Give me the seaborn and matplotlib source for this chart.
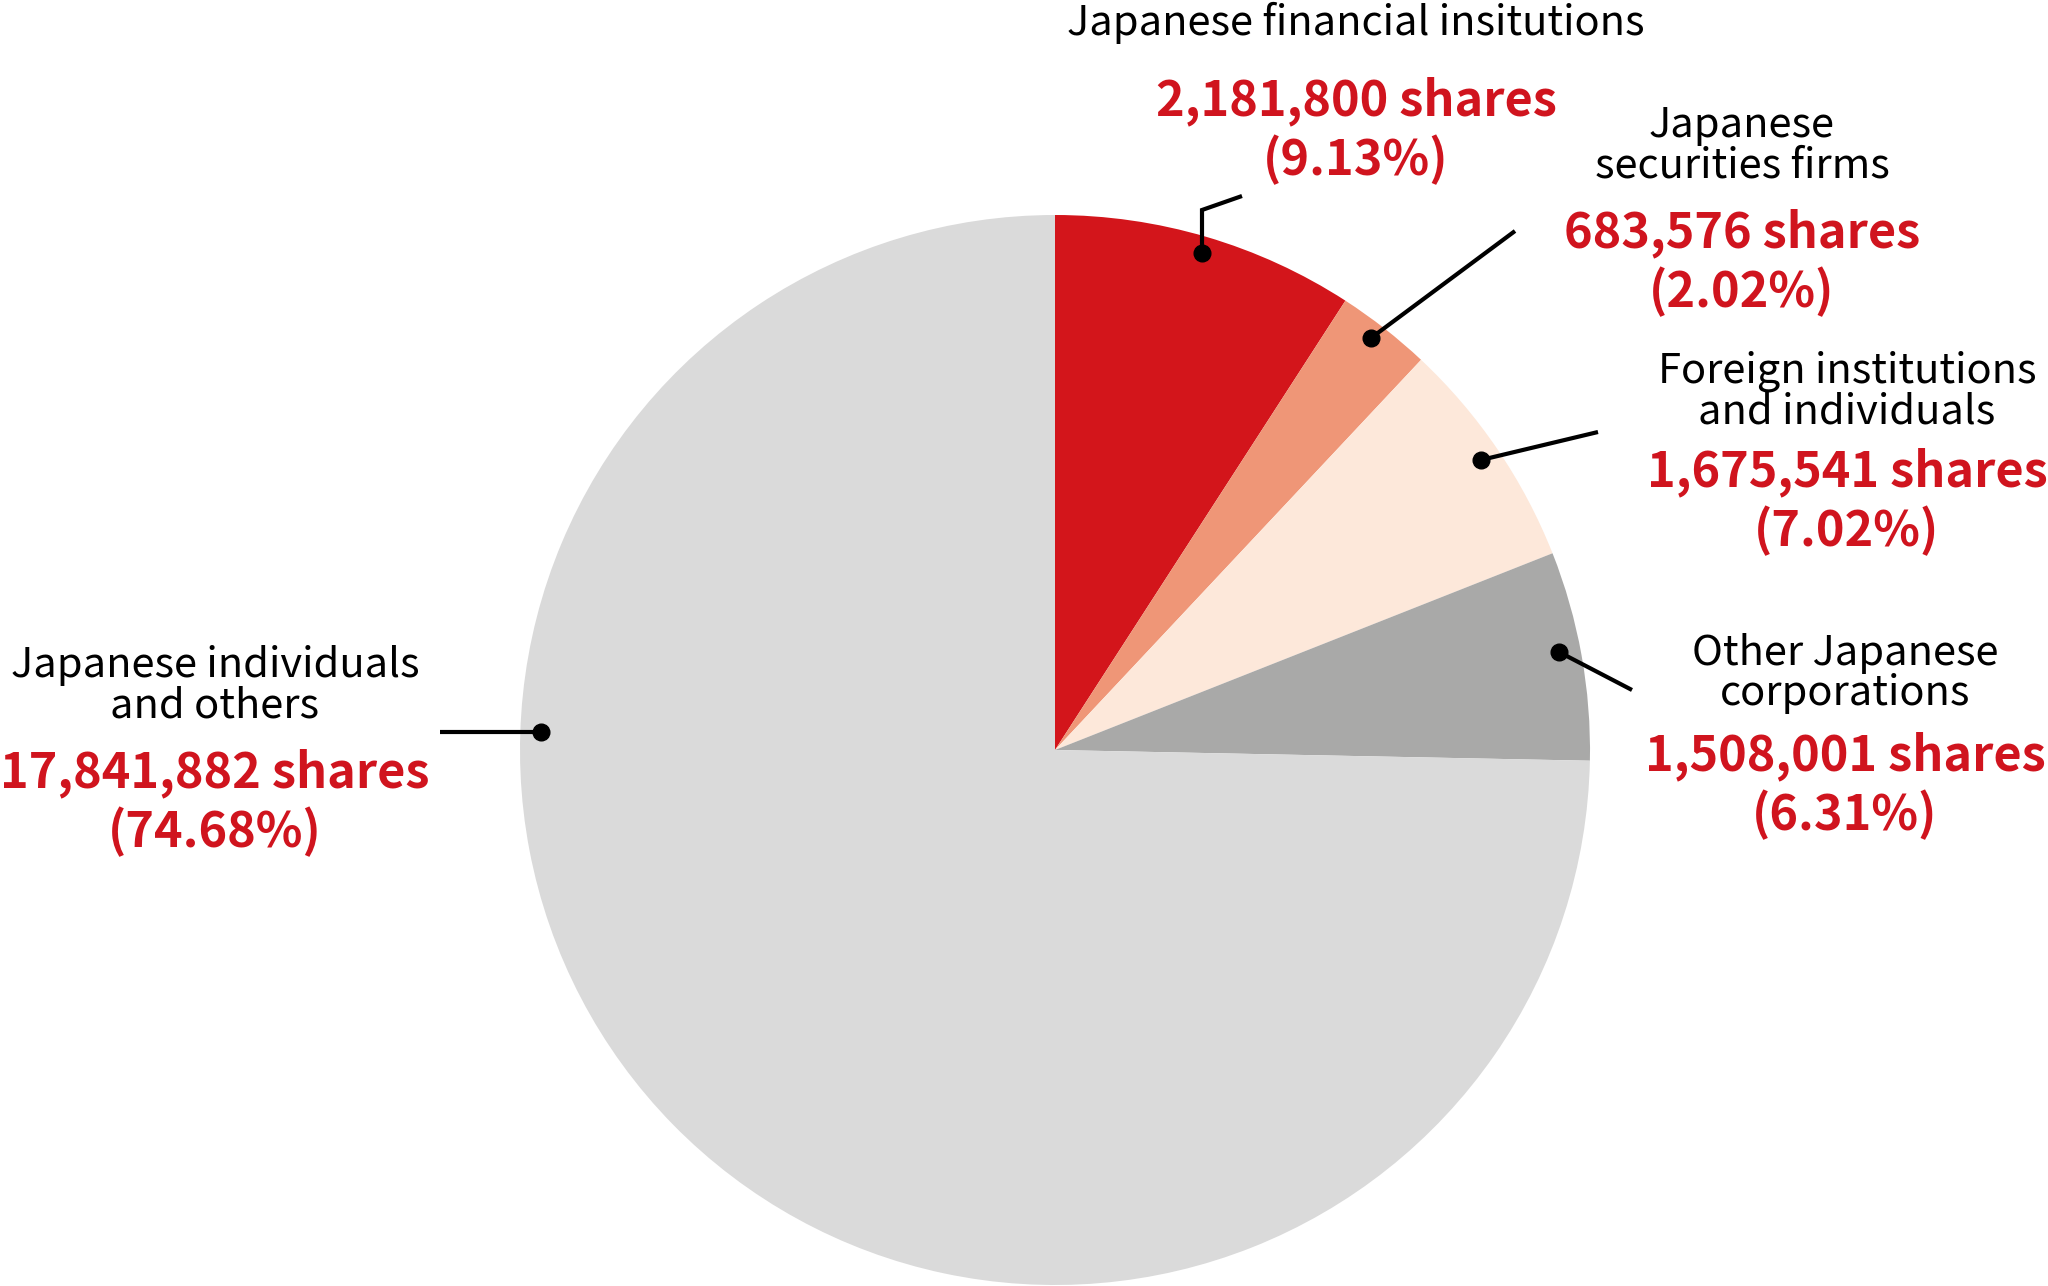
import seaborn as sns
import matplotlib.pyplot as plt

# shareholder breakdown
categories = ['Japanese financial insitutions', 'Japanese securities firms',
              'Foreign institutions and individuals', 'Other Japanese corporations',
              'Japanese individuals and others']
shares = [2181800, 683576, 1675541, 1508001, 17841882]
pct_labels = ['(9.13%)', '(2.02%)', '(7.02%)', '(6.31%)', '(74.68%)']
name_lines = [['Japanese financial insitutions'],
              ['Japanese', 'securities firms'],
              ['Foreign institutions', 'and individuals'],
              ['Other Japanese', 'corporations'],
              ['Japanese individuals', 'and others']]
colors = ['#d3151b', '#ef9677', '#fde8da', '#a9a9a8', '#dadada']

# label layout (pixel coords, y down)
label_x = [1356, 1742, 1847, 1845, 215]
name_base = [[35], [137, 177], [383, 423], [665, 705], [677, 718]]
red_base = [[115, 175], [247, 307], [486, 546], [770, 830], [787, 847]]
leaders = [[(1202, 253), (1202, 210), (1242, 196)],
           [(1371, 338), (1515, 231)],
           [(1481, 460), (1598, 432)],
           [(1559, 652), (1632, 690)],
           [(541, 732), (440, 732)]]

W, H = 2048, 1286
sns.set_theme(style="white")
plt.rcParams['font.family'] = ['Noto Sans CJK JP', 'DejaVu Sans']

fig = plt.figure(figsize=(W / 100, H / 100), dpi=100)
ax = fig.add_axes([0, 0, 1, 1])
ax.pie(shares, colors=sns.color_palette(colors), startangle=-90, counterclock=True,
       center=(1055, 750), radius=535, wedgeprops=dict(linewidth=0))
ax.set_xlim(0, W)
ax.set_ylim(H, 0)
ax.set_aspect('auto')
ax.axis('off')

for i in range(len(categories)):
    for line, yb in zip(name_lines[i], name_base[i]):
        ax.text(label_x[i], yb, line, ha='center', va='baseline',
                fontsize=30, color='black')
    red_text = [f'{shares[i]:,} shares', pct_labels[i]]
    for line, yb in zip(red_text, red_base[i]):
        ax.text(label_x[i], yb, line, ha='center', va='baseline',
                fontsize=35, fontweight='bold', color='#d0141e')
    pts = leaders[i]
    ax.plot([p[0] for p in pts], [p[1] for p in pts], color='black', lw=3,
            solid_capstyle='butt', solid_joinstyle='miter')
    ax.plot(pts[0][0], pts[0][1], 'o', color='black', ms=12)

fig.savefig('out.png', dpi=100)
